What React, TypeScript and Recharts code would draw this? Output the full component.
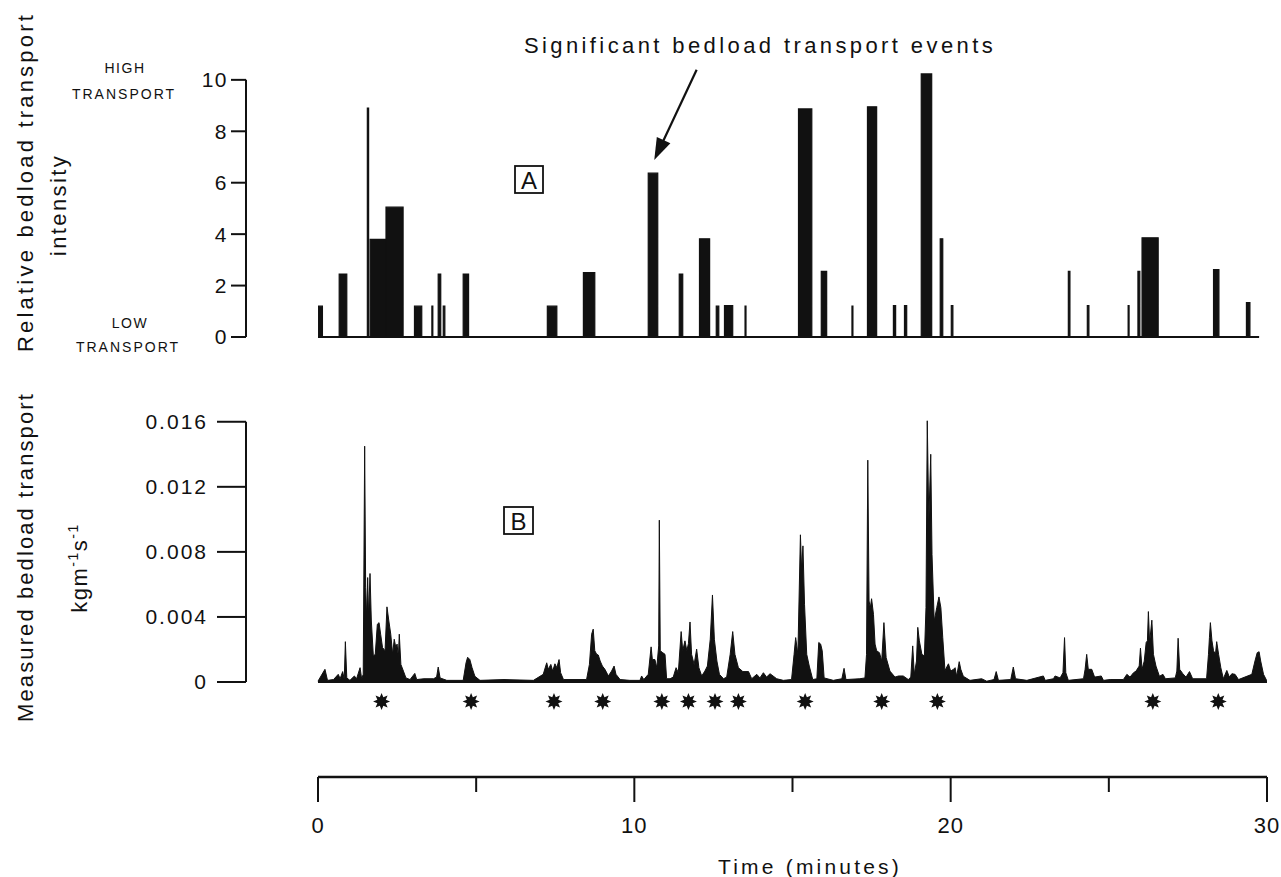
import React from 'react';
import { ComposedChart, Area, XAxis, YAxis, ReferenceLine, Scatter } from 'recharts';

const FONT = '"Liberation Sans", Arial, Helvetica, sans-serif';
const INK = '#111';

// ---------- Panel A: relative bedload transport intensity ----------
const intensityTicks = [0, 2, 4, 6, 8, 10];
// [start minute, end minute, relative intensity]
const intensityEvents: [number, number, number][] = [
  [0.02, 0.14, 1.2],
  [0.67, 0.91, 2.45],
  [1.56, 1.6, 8.9],
  [1.65, 2.15, 3.8],
  [2.15, 2.69, 5.05],
  [3.05, 3.28, 1.2],
  [3.6, 3.63, 1.2],
  [3.8, 3.88, 2.45],
  [3.96, 4.01, 1.2],
  [4.59, 4.76, 2.45],
  [7.25, 7.55, 1.2],
  [8.39, 8.75, 2.5],
  [10.44, 10.74, 6.37],
  [11.42, 11.53, 2.45],
  [12.06, 12.38, 3.82],
  [12.59, 12.67, 1.2],
  [12.85, 13.11, 1.22],
  [13.5, 13.53, 1.2],
  [15.19, 15.61, 8.87],
  [15.91, 16.08, 2.55],
  [16.88, 16.91, 1.2],
  [17.37, 17.66, 8.95],
  [18.19, 18.26, 1.22],
  [18.54, 18.61, 1.22],
  [19.07, 19.4, 10.23],
  [19.67, 19.75, 3.82],
  [20.02, 20.07, 1.22],
  [23.72, 23.77, 2.55],
  [24.32, 24.37, 1.22],
  [25.61, 25.64, 1.22],
  [25.92, 25.98, 2.55],
  [26.05, 26.56, 3.86],
  [28.31, 28.48, 2.62],
  [29.35, 29.46, 1.34],
];
const intensityEnd = 29.75;

// ---------- Panel B: measured bedload transport (x 0.001 kg m-1 s-1) ----------
const transportTicks = [0, 0.004, 0.008, 0.012, 0.016];
const measuredSeries: [number, number][] = [
  [0.0, 0.05], [0.22, 0.78], [0.3, 0.1], [0.49, 0.15], [0.64, 0.47], [0.7, 0.2],
  [0.78, 0.64], [0.83, 0.15], [0.865, 2.48], [0.91, 0.25], [1.01, 0.1], [1.15, 0.37],
  [1.22, 0.2], [1.33, 0.88], [1.38, 0.2], [1.43, 0.47], [1.475, 14.5], [1.507, 5.8],
  [1.539, 3.96], [1.57, 6.42], [1.6, 3.96], [1.644, 6.67], [1.686, 3.75], [1.75, 1.6],
  [1.81, 1.7], [1.876, 3.55], [1.93, 3.65], [1.98, 2.94], [2.04, 2.12], [2.12, 1.92],
  [2.18, 4.62], [2.24, 3.75], [2.3, 2.94], [2.36, 1.7], [2.41, 2.63], [2.46, 2.12],
  [2.5, 2.33], [2.54, 1.5], [2.57, 2.94], [2.62, 1.08], [2.7, 0.67], [2.78, 0.25],
  [2.91, 0.15], [3.06, 0.53], [3.12, 0.15], [3.35, 0.2], [3.65, 0.2], [3.75, 0.3],
  [3.8, 0.92], [3.86, 0.25], [4.07, 0.1], [4.59, 0.1], [4.68, 1.18], [4.73, 1.52],
  [4.8, 1.38], [4.87, 0.88], [4.96, 0.35], [5.12, 0.1], [5.88, 0.15], [6.81, 0.1],
  [7.12, 0.47], [7.23, 1.18], [7.28, 0.78], [7.36, 1.08], [7.42, 0.67], [7.49, 1.12],
  [7.55, 0.88], [7.62, 1.38], [7.67, 0.57], [7.76, 0.15], [8.49, 0.15], [8.58, 1.08],
  [8.65, 2.94], [8.7, 3.25], [8.75, 1.92], [8.81, 1.7], [8.86, 1.66], [8.92, 1.29],
  [8.99, 0.98], [9.07, 0.78], [9.18, 0.37], [9.28, 0.67], [9.36, 0.98], [9.42, 0.47],
  [9.55, 0.15], [9.86, 0.1], [10.18, 0.1], [10.23, 0.37], [10.3, 0.15], [10.44, 0.47],
  [10.53, 2.16], [10.57, 1.38], [10.65, 1.38], [10.71, 0.88], [10.77, 2.22], [10.79, 9.95],
  [10.82, 1.92], [10.9, 1.8], [10.97, 1.7], [11.02, 0.2], [11.13, 0.2], [11.23, 0.3],
  [11.32, 0.88], [11.39, 0.57], [11.48, 3.1], [11.53, 1.92], [11.6, 2.53], [11.66, 1.92],
  [11.71, 2.36], [11.76, 3.69], [11.81, 1.7], [11.89, 1.08], [11.97, 2.02], [12.04, 0.88],
  [12.13, 0.37], [12.23, 0.67], [12.31, 0.98], [12.4, 2.63], [12.47, 5.35], [12.53, 2.63],
  [12.61, 1.29], [12.69, 0.47], [12.82, 0.2], [12.92, 0.3], [13.03, 1.7], [13.11, 3.1],
  [13.18, 1.7], [13.29, 0.88], [13.43, 0.64], [13.61, 0.64], [13.71, 0.2], [13.87, 0.47],
  [13.97, 0.25], [14.08, 0.57], [14.18, 0.3], [14.29, 0.51], [14.5, 0.2], [14.71, 0.1],
  [14.97, 0.15], [15.05, 1.7], [15.1, 2.73], [15.17, 1.7], [15.25, 9.05], [15.29, 6.85],
  [15.33, 8.37], [15.38, 4.78], [15.45, 1.7], [15.53, 0.98], [15.64, 0.15], [15.77, 0.2],
  [15.83, 2.43], [15.89, 2.33], [15.94, 1.92], [16.0, 0.25], [16.29, 0.1], [16.56, 0.2],
  [16.63, 0.84], [16.69, 0.15], [17.13, 0.2], [17.29, 0.25], [17.34, 1.7], [17.38, 13.64],
  [17.42, 4.98], [17.46, 4.57], [17.5, 5.12], [17.56, 4.16], [17.61, 2.33], [17.66, 1.92],
  [17.75, 1.8], [17.82, 1.29], [17.89, 3.65], [17.96, 1.5], [18.08, 0.67], [18.24, 0.3],
  [18.35, 0.37], [18.5, 0.37], [18.66, 0.15], [18.74, 0.3], [18.8, 2.22], [18.85, 0.47],
  [18.92, 1.29], [18.96, 3.36], [19.01, 2.53], [19.09, 1.7], [19.17, 1.6], [19.22, 4.57],
  [19.26, 16.06], [19.31, 9.9], [19.37, 14.0], [19.41, 7.85], [19.48, 3.75], [19.56, 4.57],
  [19.63, 5.23], [19.69, 4.57], [19.75, 2.73], [19.82, 0.7], [19.93, 1.12], [20.0, 0.67],
  [20.09, 0.78], [20.14, 0.88], [20.19, 0.35], [20.27, 1.25], [20.32, 0.78], [20.4, 0.35],
  [20.61, 0.1], [20.98, 0.2], [21.14, 0.05], [21.37, 0.15], [21.44, 0.64], [21.51, 0.1],
  [21.9, 0.15], [21.98, 0.92], [22.05, 0.2], [22.41, 0.1], [22.93, 0.37], [22.99, 0.1],
  [23.25, 0.2], [23.3, 0.37], [23.46, 0.25], [23.55, 0.57], [23.6, 2.73], [23.64, 0.57],
  [23.72, 0.1], [24.2, 0.2], [24.25, 0.78], [24.3, 1.7], [24.35, 0.78], [24.46, 0.78],
  [24.55, 0.3], [24.76, 0.37], [24.83, 0.1], [25.04, 0.15], [25.46, 0.15], [25.57, 0.47],
  [25.67, 0.3], [25.78, 0.57], [25.86, 0.67], [25.96, 0.98], [26.0, 2.08], [26.05, 0.78],
  [26.12, 1.29], [26.18, 2.43], [26.22, 2.53], [26.25, 4.33], [26.29, 2.43], [26.36, 3.8],
  [26.41, 1.7], [26.49, 0.98], [26.6, 0.35], [26.71, 0.47], [26.79, 0.2], [27.1, 0.25],
  [27.15, 0.67], [27.19, 2.69], [27.24, 0.78], [27.34, 0.51], [27.44, 0.3], [27.55, 0.64],
  [27.65, 0.2], [28.09, 0.2], [28.15, 1.7], [28.18, 2.73], [28.21, 3.65], [28.26, 2.53],
  [28.31, 1.92], [28.37, 1.7], [28.41, 2.48], [28.47, 1.7], [28.54, 0.88], [28.62, 0.2],
  [28.73, 0.71], [28.81, 0.3], [28.89, 0.51], [28.99, 0.47], [29.1, 0.15], [29.52, 0.47],
  [29.62, 1.29], [29.69, 1.8], [29.75, 1.86], [29.8, 1.29], [29.89, 0.47], [30.0, 0.05],
];

// Significant transport events (asterisks), minutes
const eventMarkers = [2.01, 4.84, 7.46, 9.0, 10.87, 11.71, 12.55, 13.29, 15.4, 17.82, 19.58, 26.39, 28.46];

// Time axis
const timeTicks = [0, 5, 10, 15, 20, 25, 30];

// Annotation arrow (minutes, intensity)
const arrowFrom = { x: 11.97, y: 10.39 };
const arrowTo = { x: 10.63, y: 6.88 };

// ---------- derived tables ----------
const T_MIN = -2.276;
const intensityData: { t: number; v: number }[] = [{ t: 0, v: 0 }];
intensityEvents.forEach(([s, e, v]) => {
  intensityData.push({ t: s, v });
  intensityData.push({ t: e, v: 0 });
});
intensityData.push({ t: intensityEnd, v: 0 });

const measuredData = measuredSeries.map(([t, v]) => ({ t, v: v / 1000 }));
const markerData = eventMarkers.map((t) => ({ t, y: 0.83 }));

const ArrowShape = (props: any) => {
  const { x1, y1, x2, y2 } = props;
  const dx = x2 - x1;
  const dy = y2 - y1;
  const len = Math.sqrt(dx * dx + dy * dy) || 1;
  const ux = dx / len;
  const uy = dy / len;
  const hl = 22;
  const hw = 7.5;
  const bx = x2 - ux * hl;
  const by = y2 - uy * hl;
  const pts = `${x2},${y2} ${bx - uy * hw},${by + ux * hw} ${bx + uy * hw},${by - ux * hw}`;
  return (
    <g>
      <line x1={x1} y1={y1} x2={bx + ux * 2} y2={by + uy * 2} stroke={INK} strokeWidth={2.2} />
      <polygon points={pts} fill={INK} />
    </g>
  );
};

const Star = (props: any) => {
  const { cx, cy } = props;
  const pts: string[] = [];
  for (let i = 0; i < 16; i++) {
    const r = i % 2 === 0 ? 8.5 : 4.6;
    const a = (i * Math.PI) / 8 - Math.PI / 2;
    pts.push(`${cx + r * Math.cos(a)},${cy + r * Math.sin(a)}`);
  }
  return <polygon points={pts.join(' ')} fill={INK} />;
};

const TimeTick = (props: any) => {
  const { x, y, payload } = props;
  const v = payload.value;
  const major = v % 10 === 0;
  return (
    <g>
      <line x1={x} y1={y} x2={x} y2={y + (major ? 25 : 15)} stroke={INK} strokeWidth={2} />
      {major && (
        <text x={x} y={y + 56} textAnchor="middle" fill={INK} fontSize={22} fontFamily={FONT} letterSpacing={1}>
          {v}
        </text>
      )}
    </g>
  );
};

const txt = { fill: INK, fontFamily: FONT } as const;

export default function App() {
  return (
    <div style={{ position: 'absolute', left: 0, top: 0, width: 1281, height: 877, background: '#fff', fontFamily: FONT }}>
      {/* Panel A */}
      <div style={{ position: 'absolute', left: 0, top: 0 }}>
        <ComposedChart width={1281} height={360} data={intensityData} margin={{ top: 67, right: 14, bottom: 23, left: 186 }}>
          <XAxis type="number" dataKey="t" domain={[T_MIN, 30]} hide allowDataOverflow />
          <YAxis
            type="number"
            domain={[0, 10.5]}
            ticks={intensityTicks}
            interval={0}
            width={60}
            axisLine={false}
            tickLine={{ stroke: INK, strokeWidth: 2 }}
            tickSize={15}
            tickMargin={3}
            tick={{ fill: INK, fontSize: 21, fontFamily: FONT, letterSpacing: 1.5 }}
            allowDataOverflow
          />
          <ReferenceLine segment={[{ x: T_MIN, y: 0 }, { x: T_MIN, y: 10 }]} stroke={INK} strokeWidth={2} />
          <ReferenceLine segment={[{ x: 0, y: 0 }, { x: intensityEnd, y: 0 }]} stroke={INK} strokeWidth={2} />
          <Area
            type="stepAfter"
            dataKey="v"
            stroke={INK}
            strokeWidth={1.2}
            fill={INK}
            fillOpacity={1}
            dot={false}
            activeDot={false}
            isAnimationActive={false}
          />
          <ReferenceLine segment={[arrowFrom, arrowTo]} ifOverflow="visible" shape={ArrowShape} />
        </ComposedChart>
      </div>

      {/* Panel B */}
      <div style={{ position: 'absolute', left: 0, top: 360 }}>
        <ComposedChart width={1281} height={340} data={measuredData} margin={{ top: 52, right: 14, bottom: 18, left: 186 }}>
          <XAxis type="number" dataKey="t" domain={[T_MIN, 30]} hide allowDataOverflow />
          <YAxis
            type="number"
            domain={[0, 0.0166]}
            ticks={transportTicks}
            interval={0}
            width={60}
            axisLine={false}
            tickLine={{ stroke: INK, strokeWidth: 2 }}
            tickSize={29}
            tickMargin={9}
            tickFormatter={(v: number) => (v === 0 ? '0' : v.toFixed(3))}
            tick={{ fill: INK, fontSize: 21, fontFamily: FONT, letterSpacing: 2 }}
            allowDataOverflow
          />
          <ReferenceLine segment={[{ x: T_MIN, y: 0 }, { x: T_MIN, y: 0.016 }]} stroke={INK} strokeWidth={2} />
          <ReferenceLine segment={[{ x: 0, y: 0 }, { x: 30, y: 0 }]} stroke={INK} strokeWidth={2.2} />
          <Area
            type="linear"
            dataKey="v"
            stroke={INK}
            strokeWidth={1}
            fill={INK}
            fillOpacity={1}
            dot={false}
            activeDot={false}
            isAnimationActive={false}
          />
        </ComposedChart>
      </div>

      {/* Event markers and time axis */}
      <div style={{ position: 'absolute', left: 0, top: 680 }}>
        <ComposedChart width={1281} height={197} data={markerData} margin={{ top: 6, right: 14, bottom: 0, left: 318 }}>
          <XAxis
            type="number"
            dataKey="t"
            domain={[0, 30]}
            ticks={timeTicks}
            interval={0}
            height={100}
            tickSize={0}
            tickMargin={0}
            tickLine={false}
            axisLine={{ stroke: INK, strokeWidth: 2.5 }}
            tick={TimeTick}
          />
          <YAxis type="number" dataKey="y" domain={[0, 1]} hide />
          <Scatter data={markerData} dataKey="y" shape={Star} isAnimationActive={false} />
        </ComposedChart>
      </div>

      {/* Text annotations */}
      <svg width={1281} height={877} style={{ position: 'absolute', left: 0, top: 0, pointerEvents: 'none' }}>
        <text x={760} y={53} textAnchor="middle" fontSize={22} letterSpacing={3.4} {...txt}>
          Significant bedload transport events
        </text>
        <text x={125} y={73} textAnchor="middle" fontSize={14} letterSpacing={1.5} {...txt}>HIGH</text>
        <text x={124} y={99} textAnchor="middle" fontSize={14} letterSpacing={2} {...txt}>TRANSPORT</text>
        <text x={130} y={328} textAnchor="middle" fontSize={14} letterSpacing={1.5} {...txt}>LOW</text>
        <text x={128} y={352} textAnchor="middle" fontSize={14} letterSpacing={2} {...txt}>TRANSPORT</text>

        <text transform="translate(33,182) rotate(-90)" textAnchor="middle" fontSize={22} letterSpacing={3.2} {...txt}>
          Relative bedload transport
        </text>
        <text transform="translate(66,205) rotate(-90)" textAnchor="middle" fontSize={22} letterSpacing={2.4} {...txt}>
          intensity
        </text>
        <text transform="translate(33,557) rotate(-90)" textAnchor="middle" fontSize={22} letterSpacing={2.1} {...txt}>
          Measured bedload transport
        </text>
        <text transform="translate(87,568) rotate(-90)" textAnchor="middle" fontSize={22} letterSpacing={1.5} {...txt}>
          kgm
          <tspan fontSize={14} dy={-9}>-1</tspan>
          <tspan dy={9}>s</tspan>
          <tspan fontSize={14} dy={-9}>-1</tspan>
        </text>

        <rect x={515} y={166} width={28} height={27} fill="none" stroke={INK} strokeWidth={1.8} />
        <text x={529} y={189} textAnchor="middle" fontSize={24} {...txt}>A</text>
        <rect x={504} y={507} width={29} height={27} fill="none" stroke={INK} strokeWidth={1.8} />
        <text x={518.5} y={530} textAnchor="middle" fontSize={24} {...txt}>B</text>

        <text x={810} y={874} textAnchor="middle" fontSize={21} letterSpacing={3.2} {...txt}>
          Time (minutes)
        </text>
      </svg>
    </div>
  );
}
